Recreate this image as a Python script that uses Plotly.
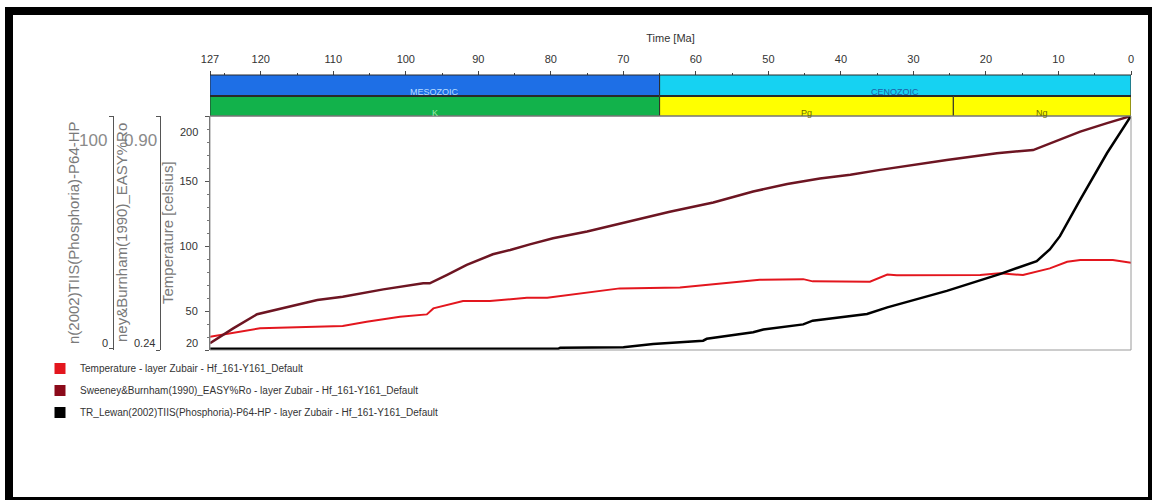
import plotly.graph_objects as go

# ---------------- data ----------------
time_ticks = [127, 120, 110, 100, 90, 80, 70, 60, 50, 40, 30, 20, 10, 0]

temp_age = [127, 123.8, 120.1, 108.7, 105.4, 100.8, 97.1, 96.2, 92.1, 88.4, 83.3, 80.5,
            75.0, 70.5, 62.2, 56.7, 51.2, 45.2, 43.9, 36.0, 33.6, 32.3, 20.8, 18.1,
            14.9, 11.2, 8.8, 7.0, 2.5, 0]
temp_val = [30.2, 33.3, 36.7, 38.4, 41.8, 45.6, 47.4, 52.0, 57.7, 57.7, 60.2, 60.2,
            64.1, 67.4, 68.0, 71.0, 74.0, 74.5, 72.8, 72.5, 78.0, 77.5, 77.7, 79.0,
            77.7, 82.8, 87.9, 89.2, 89.2, 87.2]

ro_age = [127, 123.8, 120.5, 116.9, 112.2, 108.7, 103.1, 97.6, 96.7, 94.3, 91.6, 88.0,
          85.6, 82.9, 79.7, 75.0, 68.1, 63.6, 57.6, 52.1, 47.4, 42.9, 38.7, 34.6,
          25.4, 18.5, 13.5, 9.4, 7.0, 3.3, 0]
ro_val = [0.259, 0.301, 0.341, 0.358, 0.381, 0.390, 0.411, 0.428, 0.428, 0.452, 0.480, 0.510,
          0.522, 0.538, 0.555, 0.574, 0.607, 0.630, 0.656, 0.687, 0.708, 0.724, 0.734, 0.748,
          0.776, 0.795, 0.804, 0.837, 0.856, 0.880, 0.900]

tr_age = [127, 79.0, 78.7, 70.0, 65.9, 62.2, 59.0, 58.5, 52.1, 50.7, 45.2, 43.9, 38.7,
          36.4, 33.6, 25.4, 18.1, 13.0, 11.2, 9.8, 7.0, 3.3, 0]
tr_val = [0, 0, 0.5, 0.7, 2.1, 2.9, 3.5, 4.3, 7.1, 8.3, 10.5, 12.1, 14.2,
          15.0, 17.8, 24.9, 32.1, 37.7, 42.7, 48.4, 64.1, 84.1, 100]

era_names = ["MESOZOIC", "CENOZOIC"]
era_start = [127, 65]
era_end = [65, 0]
period_names = ["K", "Pg", "Ng"]
period_start = [127, 65, 24.5]
period_end = [65, 24.5, 0]

series_names = [
    "Temperature - layer Zubair - Hf_161-Y161_Default",
    "Sweeney&Burnham(1990)_EASY%Ro - layer Zubair - Hf_161-Y161_Default",
    "TR_Lewan(2002)TIIS(Phosphoria)-P64-HP - layer Zubair - Hf_161-Y161_Default",
]

# ---------------- styles ----------------
NARROW = "Liberation Sans Narrow, Arial Narrow, Liberation Sans, Arial, sans-serif"
ARIAL = "Liberation Sans, Arial, sans-serif"
C_TEMP = "#e3161e"
C_RO = "#6d1522"
C_TR = "#000000"
era_colors = ["#1e6fe6", "#16d2f2"]
era_text = ["#b8dcff", "#1d5fa8"]
period_colors = ["#12b24b", "#ffff00", "#ffff00"]
period_text = ["#9be8aa", "#6b6b00", "#6b6b00"]

W, H = 1152, 500
ML, MR, MT, MB = 10, 21, 75, 150
PW, PH = W - ML - MR, H - MT - MB


def px_x(px):
    return (px - ML) / PW


def px_y(py):
    return (H - MB - py) / PH


fig = go.Figure()

fig.add_trace(go.Scatter(x=temp_age, y=temp_val, mode="lines", yaxis="y",
                         line=dict(color=C_TEMP, width=2), showlegend=False))
fig.add_trace(go.Scatter(x=ro_age, y=ro_val, mode="lines", yaxis="y2",
                         line=dict(color=C_RO, width=2.5), showlegend=False))
fig.add_trace(go.Scatter(x=tr_age, y=tr_val, mode="lines", yaxis="y3",
                         line=dict(color=C_TR, width=2.5), showlegend=False))

for i, (nm, col) in enumerate(zip(series_names, [C_TEMP, "#8b0a1a", C_TR])):
    fig.add_trace(go.Scatter(x=[None], y=[None], mode="markers", name=nm,
                             legendgroup="g%d" % i,
                             marker=dict(symbol="square", size=11, color=col)))

shapes = []
annotations = []

# geological time bands
for s, e, c in zip(era_start, era_end, era_colors):
    shapes.append(dict(type="rect", xref="x", yref="paper", x0=s, x1=e,
                       y0=px_y(95.5), y1=px_y(75), fillcolor=c,
                       line=dict(color="#2a2a2a", width=1)))
for s, e, c in zip(period_start, period_end, period_colors):
    shapes.append(dict(type="rect", xref="x", yref="paper", x0=s, x1=e,
                       y0=px_y(116), y1=px_y(96.5), fillcolor=c,
                       line=dict(color="#2a2a2a", width=1)))
for nm, s, e, tc in zip(era_names, era_start, era_end, era_text):
    annotations.append(dict(text=nm, x=(s + e) / 2, y=px_y(85), xref="x", yref="paper",
                            showarrow=False, font=dict(family=NARROW, size=9, color=tc)))
for nm, s, e, tc in zip(period_names, period_start, period_end, period_text):
    annotations.append(dict(text=nm, x=(s + e) / 2, y=px_y(106), xref="x", yref="paper",
                            showarrow=False, font=dict(family=NARROW, size=9, color=tc)))

# plot frame
shapes.append(dict(type="rect", xref="x domain", yref="y domain", x0=0, x1=1, y0=0, y1=1,
                   line=dict(color="#9a9a9a", width=1)))

# outer black frame
for x0, x1, y0, y1 in [(5, 1152, 7, 15), (5, 13, 7, 500), (1148, 1152, 7, 500), (5, 1152, 497, 500)]:
    shapes.append(dict(type="rect", xref="paper", yref="paper",
                       x0=px_x(x0), x1=px_x(x1), y0=px_y(y1), y1=px_y(y0),
                       fillcolor="black", line=dict(width=0)))

# axis end labels
annotations += [
    dict(text="200", x=px_x(200), xanchor="right", xref="paper", y=200, yref="y", yshift=-16,
         showarrow=False, font=dict(family=NARROW, size=11, color="#333")),
    dict(text="20", x=px_x(200), xanchor="right", xref="paper", y=20, yref="y", yshift=7,
         showarrow=False, font=dict(family=NARROW, size=11, color="#333")),
    dict(text="100", x=px_x(109), xanchor="right", xref="paper", y=100, yref="y3", yshift=-24,
         showarrow=False, font=dict(family=ARIAL, size=17, color="#8a8a8a")),
    dict(text="0", x=px_x(110), xanchor="right", xref="paper", y=0, yref="y3", yshift=6,
         showarrow=False, font=dict(family=NARROW, size=11, color="#333")),
    dict(text="0.90", x=px_x(159), xanchor="right", xref="paper", y=0.90, yref="y2", yshift=-24,
         showarrow=False, font=dict(family=ARIAL, size=17, color="#8a8a8a")),
    dict(text="0.24", x=px_x(157), xanchor="right", xref="paper", y=0.24, yref="y2", yshift=7,
         showarrow=False, font=dict(family=NARROW, size=11, color="#333")),
]

# left axis titles (visible, clipped text as in the reference)
mid = px_y(233)
for txt, xc in [("n(2002)TIIS(Phosphoria)-P64-HP", 74),
                ("ney&Burnham(1990)_EASY%Ro", 122),
                ("Temperature [celsius]", 168)]:
    annotations.append(dict(text=txt, x=px_x(xc), y=mid, xref="paper", yref="paper",
                            xanchor="center", yanchor="middle", textangle=-90, showarrow=False,
                            font=dict(family=ARIAL, size=15, color="#7a7a7a")))

fig.update_layout(
    width=W, height=H,
    margin=dict(l=ML, r=MR, t=MT, b=MB, autoexpand=False),
    paper_bgcolor="white", plot_bgcolor="white",
    xaxis=dict(domain=[px_x(210), 1], range=[127, 0], side="top", anchor="free", position=1,
               tickmode="array", tickvals=time_ticks, ticktext=[str(t) for t in time_ticks],
               ticks="outside", ticklen=4, tickcolor="#444", ticklabelstandoff=4,
               minor=dict(dtick=5, tick0=0, ticks="outside", ticklen=2, tickcolor="#444"),
               showline=False, showgrid=False, zeroline=False,
               tickfont=dict(family=NARROW, size=11, color="#333"),
               title=dict(text="Time [Ma]", font=dict(family=NARROW, size=11, color="#333"),
                          standoff=6)),
    yaxis=dict(domain=[0, px_y(116)], range=[20, 200], anchor="x",
               tickmode="array", tickvals=[20, 50, 100, 150, 200],
               ticktext=["", "50", "100", "150", ""],
               ticks="outside", ticklen=4, tickcolor="#555", ticklabelstandoff=5,
               minor=dict(dtick=10, tick0=0, ticks="outside", ticklen=2, tickcolor="#777"),
               showline=True, linecolor="#555", linewidth=1, showgrid=False, zeroline=False,
               tickfont=dict(family=NARROW, size=11, color="#333")),
    yaxis2=dict(overlaying="y", anchor="free", position=px_x(160), side="left",
                range=[0.24, 0.90], tickmode="array", tickvals=[0.24, 0.90],
                ticks="outside", ticklen=4, tickcolor="#555", showticklabels=False,
                showline=True, linecolor="#555", linewidth=1, showgrid=False, zeroline=False),
    yaxis3=dict(overlaying="y", anchor="free", position=px_x(113), side="left",
                range=[-0.5, 100], tickmode="array", tickvals=[0, 100],
                ticks="outside", ticklen=4, tickcolor="#555", showticklabels=False,
                showline=True, linecolor="#555", linewidth=1, showgrid=False, zeroline=False),
    legend=dict(x=px_x(40), y=px_y(354), xanchor="left", yanchor="top",
                orientation="v", tracegroupgap=3, bgcolor="rgba(0,0,0,0)",
                font=dict(family=NARROW, size=10, color="#333")),
    shapes=shapes,
    annotations=annotations,
    showlegend=True,
)

fig.write_html("out.html", config={"displayModeBar": False})
